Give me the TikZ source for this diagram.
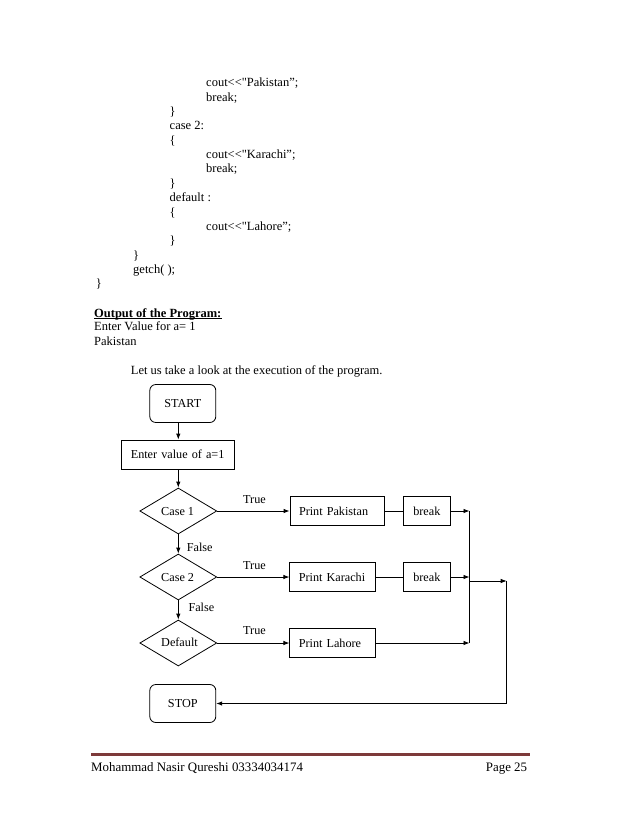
\documentclass[tikz,border=0pt]{standalone}
\usepackage{fontspec}
\setmainfont{Liberation Serif}[Ligatures=TeXOff]
\usetikzlibrary{shapes.geometric,arrows.meta}
\definecolor{footred}{RGB}{125,58,58}
\begin{document}
\begin{tikzpicture}[x=1pt,y=-1pt,
  body/.style={anchor=base west, inner sep=0, font=\fontsize{12.5}{15}\selectfont},
  flab/.style={anchor=base west, inner sep=0, font=\fontsize{12.2}{14}\selectfont},
  fbox/.style={draw, line width=0.8pt, minimum height=29, inner xsep=9, inner ysep=0, align=left, font=\fontsize{12.2}{14}\selectfont},
  bbox/.style={draw, line width=0.8pt, minimum height=29, minimum width=47.5, inner sep=0, font=\fontsize{12.2}{14}\selectfont},
  term/.style={draw, rounded corners=6, line width=0.8pt, minimum width=66, minimum height=38, inner sep=0, font=\fontsize{12.2}{14}\selectfont},
  dec/.style={draw, diamond, line width=0.8pt, minimum width=77, minimum height=46, inner sep=0},
  conn/.style={line width=0.8pt, -{Latex[length=6pt,width=4.5pt]}},
  plain/.style={line width=0.8pt}
]
\useasboundingbox (0,0) rectangle (638,826);
\fill[white] (0,0) rectangle (638,826);

% code listing
\node[body] (l0) at (206,87) {cout<<"Pakistan”;};
\node[body] (l1) at (206,101.3) {break;};
\node[body] (l2) at (169.5,115.7) {\}};
\node[body] (l3) at (169.5,130) {case 2:};
\node[body] (l4) at (169.5,144.3) {\{};
\node[body] (l5) at (206,158.7) {cout<<"Karachi”;};
\node[body] (l6) at (206,173) {break;};
\node[body] (l7) at (169.5,187.3) {\}};
\node[body] (l8) at (169.5,201.7) {default :};
\node[body] (l9) at (169.5,216) {\{};
\node[body] (l10) at (206,230.3) {cout<<"Lahore”;};
\node[body] (l11) at (169.5,244.7) {\}};
\node[body] (l12) at (133,259) {\}};
\node[body] (l13) at (133,273.3) {getch( );};
\node[body] (l14) at (95.7,287.7) {\}};

% output
\node[body] (out) at (94,317) {\textbf{Output of the Program:}};
\draw[line width=0.7pt] ([yshift=-1.8pt]out.base west) -- ([yshift=-1.8pt]out.base east);
\node[body] (o1) at (94,330.7) {Enter Value for a= 1};
\node[body] (o2) at (94,345.7) {Pakistan};
\node[body] (intro) at (130.7,374) {Let us take a look at the execution of the program.};

% flowchart
\node[term] (start) at (182.8,403.5) {START};
\node[fbox, text width=95] (enter) at (178.3,454.5) {Enter value of a=1};
\node[dec] (c1) at (178.3,511) {};
\node[dec] (c2) at (178.3,577) {};
\node[dec] (cd) at (178.3,643) {};
\node[flab] (c1t) at (161,515) {Case 1};
\node[flab] (c2t) at (161,581) {Case 2};
\node[flab] (cdt) at (161,646.5) {Default};
\node[fbox, text width=76] (pp) at (337,511) {Print Pakistan};
\node[bbox] (b1) at (426.8,511) {break};
\node[fbox, text width=68] (pk) at (332.8,577) {Print Karachi};
\node[bbox] (b2) at (426.8,577) {break};
\node[fbox, text width=68] (pl) at (332.8,643) {Print Lahore};
\node[term] (stop) at (182.8,703.5) {STOP};

\node[flab] (t1) at (243,503.3) {True};
\node[flab] (t2) at (243,569.7) {True};
\node[flab] (t3) at (243,634.7) {True};
\node[flab] (f1) at (186.7,551) {False};
\node[flab] (f2) at (188.3,611.7) {False};

\coordinate (j1) at (469.5,511);
\coordinate (j2) at (469.5,577);
\coordinate (j3) at (469.5,643);
\coordinate (js) at (469.5,581);
\coordinate (k1) at (506.7,581);
\coordinate (k2) at (506.7,703.5);

\draw[conn] (enter.north |- start.south) -- (enter.north);
\draw[conn] (enter.south) -- (c1.north);
\draw[conn] (c1.south) -- (c2.north);
\draw[conn] (c2.south) -- (cd.north);
\draw[conn] (c1.east) -- (pp.west);
\draw[conn] (c2.east) -- (pk.west);
\draw[conn] (cd.east) -- (pl.west);
\draw[plain] (pp.east) -- (b1.west);
\draw[plain] (pk.east) -- (b2.west);
\draw[conn] (b1.east) -- (j1);
\draw[conn] (b2.east) -- (j2);
\draw[conn] (pl.east) -- (j3);
\draw[plain] (j1) -- (j3);
\draw[conn] (js) -- (k1);
\draw[conn] (k1) -- (k2) -- (stop.east);

% footer
\draw[line width=2.6pt, footred] (91,754.5) -- (530,754.5);
\node[anchor=base west, inner sep=0, font=\fontsize{12.9}{15}\selectfont] (fname) at (91,771) {Mohammad Nasir Qureshi 03334034174};
\node[anchor=base east, inner sep=0, font=\fontsize{12.9}{15}\selectfont] (fpage) at (527.3,771) {Page 25};
\end{tikzpicture}
\end{document}
